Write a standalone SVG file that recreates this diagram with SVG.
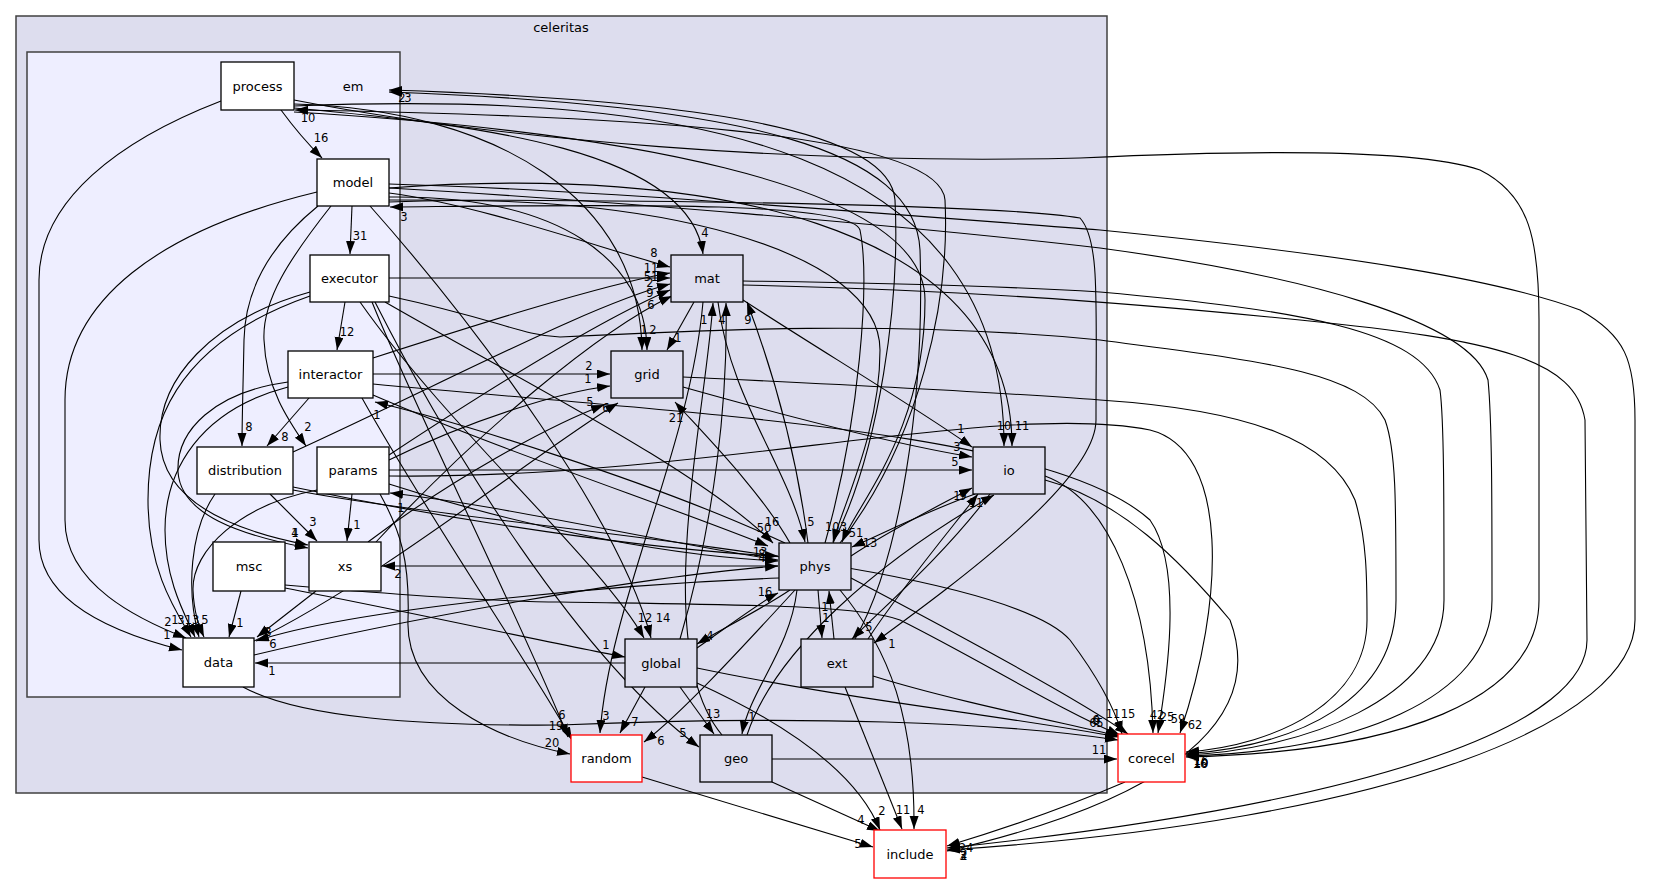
<svg xmlns="http://www.w3.org/2000/svg" width="1676" height="884" viewBox="0 0 1676 884">
<defs>
<marker id="ah" markerWidth="14" markerHeight="10" refX="13" refY="4.5" orient="auto" markerUnits="userSpaceOnUse"><path d="M0,0 L13,4.5 L0,9 z" fill="#000"/></marker>
<style>
.e path{fill:none;stroke:#000;stroke-width:1.1;marker-end:url(#ah)}
.e text{font-family:"DejaVu Sans",sans-serif;font-size:11.5px;text-anchor:middle;fill:#000}
.n rect{stroke:#000;stroke-width:1.3}
.n text{font-family:"DejaVu Sans",sans-serif;font-size:13px;text-anchor:middle;fill:#000}
.in rect{fill:#fff}
.out rect{fill:#ddddee}
.xt rect{fill:#fff;stroke:#ff0000}
.cl{stroke:#404040;stroke-width:1.5}
.ct{font-family:"DejaVu Sans",sans-serif;font-size:13px;text-anchor:middle;fill:#000}
</style>
</defs>
<rect width="1676" height="884" fill="#fff"/>
<g id="cluster-celeritas"><rect class="cl" x="16" y="16" width="1091" height="777" fill="#ddddee"/><text class="ct" x="561" y="32">celeritas</text></g>
<g id="cluster-em"><rect class="cl" x="27" y="52" width="373" height="645" fill="#eeeeff"/><text class="ct" x="353" y="91">em</text></g>
<g id="connectors">
<g class="e"><path d="M281,110 C292,125 305,141 322,158"/><text x="321" y="142">16</text></g>
<g class="e"><path d="M352,206 L350,254"/><text x="360" y="240">31</text></g>
<g class="e"><path d="M345,302 L337,350"/><text x="347" y="336">12</text></g>
<g class="e"><path d="M309,398 L267,446"/><text x="285" y="441">8</text></g>
<g class="e"><path d="M318,206 C270,245 245,290 244,340 C243,390 242,420 242,446"/><text x="249" y="431">8</text></g>
<g class="e"><path d="M331,206 C290,258 262,300 264,340 C266,388 288,420 306,446"/><text x="308" y="431">2</text></g>
<g class="e"><path d="M270,494 L317,541"/><text x="313" y="526">3</text></g>
<g class="e"><path d="M352,494 L347,541"/><text x="357" y="529">1</text></g>
<g class="e"><path d="M310,292 C210,320 158,380 160,440 C162,500 230,530 308,545"/><text x="295" y="537">4</text></g>
<g class="e"><path d="M288,382 C215,392 176,430 178,472 C181,515 240,535 308,548"/><text x="295" y="537">1</text></g>
<g class="e"><path d="M241,591 L229,637"/><text x="240" y="627">1</text></g>
<g class="e"><path d="M316,591 L257,637"/><text x="268" y="636">8</text></g>
<g class="e"><path d="M779,578 C600,585 350,610 256,641"/><text x="273" y="648">6</text></g>
<g class="e"><path d="M221,101 C120,140 39,200 39,280 L39,540 C39,600 110,632 182,650"/><text x="167" y="639">1</text></g>
<g class="e"><path d="M317,192 C160,230 65,300 65,400 L65,520 C65,585 140,620 186,638"/><text x="168" y="626">2</text></g>
<g class="e"><path d="M310,296 C170,345 148,430 148,500 C148,570 175,610 191,637"/><text x="175" y="624">1</text></g>
<g class="e"><path d="M288,387 C200,410 165,470 165,530 C165,580 185,615 195,637"/><text x="181" y="624">3</text></g>
<g class="e"><path d="M215,494 C190,530 186,590 199,637"/><text x="192" y="624">13</text></g>
<g class="e"><path d="M317,490 C240,505 192,550 193,590 C194,615 200,628 204,637"/><text x="205" y="624">5</text></g>
<g class="e"><path d="M625,663 L255,663"/><text x="272" y="675">1</text></g>
<g class="e"><path d="M254,641 C380,580 540,450 618,403"/><text x="606" y="412">6</text></g>
<g class="e"><path d="M368,542 C450,480 550,425 604,405"/><text x="590" y="406">5</text></g>
<g class="e"><path d="M376,542 C480,430 600,330 672,296"/><text x="651" y="309">6</text></g>
<g class="e"><path d="M293,452 C450,380 590,305 670,284"/><text x="650" y="287">2</text></g>
<g class="e"><path d="M389,455 C480,395 600,320 670,290"/><text x="650" y="297">9</text></g>
<g class="e"><path d="M373,358 C460,330 600,285 670,273"/><text x="651" y="272">11</text></g>
<g class="e"><path d="M389,278 L670,278"/><text x="651" y="281">51</text></g>
<g class="e"><path d="M389,193 C480,205 600,248 670,267"/><text x="654" y="257">8</text></g>
<g class="e"><path d="M294,108 C480,125 690,150 703,254"/><text x="705" y="237">4</text></g>
<g class="e"><path d="M294,104 C500,110 640,200 642,350"/><text x="644" y="334">1</text></g>
<g class="e"><path d="M389,197 C560,195 646,260 647,350"/><text x="653" y="334">2</text></g>
<g class="e"><path d="M694,302 L667,350"/><text x="678" y="342">1</text></g>
<g class="e"><path d="M373,374 L610,374"/><text x="589" y="370">2</text></g>
<g class="e"><path d="M389,460 C470,420 560,392 610,386"/><text x="588" y="383">1</text></g>
<g class="e"><path d="M790,543 C760,490 700,430 675,402"/><text x="676" y="422">21</text></g>
<g class="e"><path d="M683,387 C800,420 900,445 972,457"/><text x="957" y="451">3</text></g>
<g class="e"><path d="M389,470 L972,470"/><text x="955" y="466">5</text></g>
<g class="e"><path d="M743,300 C820,350 920,410 972,447"/><text x="961" y="433">1</text></g>
<g class="e"><path d="M294,106 C700,90 1004,150 1004,446"/><text x="1004" y="430">10</text></g>
<g class="e"><path d="M389,188 C700,165 1012,220 1012,446"/><text x="1022" y="430">11</text></g>
<g class="e"><path d="M851,556 C890,530 940,505 972,488"/><text x="963" y="500">9</text></g>
<g class="e"><path d="M975,494 C930,510 890,530 852,547"/><text x="870" y="547">13</text></g>
<g class="e"><path d="M868,639 C900,590 950,530 978,494"/><text x="957" y="500">1</text></g>
<g class="e"><path d="M747,735 C775,650 880,560 994,495"/><text x="976" y="507">11</text></g>
<g class="e"><path d="M990,494 C940,560 880,610 852,639"/><text x="869" y="631">5</text></g>
<g class="e"><path d="M389,200 C700,200 1000,205 1080,218 C1100,240 1096,300 1096,420 C1096,480 960,580 874,643"/><text x="892" y="648">1</text></g>
<g class="e"><path d="M833,543 C880,450 900,300 895,200 C890,130 700,100 389,90"/><text x="408" y="102">3</text></g>
<g class="e"><path d="M855,639 C900,560 925,400 920,250 C915,150 750,105 389,92"/><text x="402" y="102">2</text></g>
<g class="e"><path d="M840,543 C920,440 950,300 945,200 C940,130 600,115 295,110"/><text x="308" y="122">10</text></g>
<g class="e"><path d="M825,543 C860,420 870,280 860,230 C850,200 600,205 390,207"/><text x="404" y="221">3</text></g>
<g class="e"><path d="M385,302 C520,380 700,470 773,543"/><text x="772" y="526">16</text></g>
<g class="e"><path d="M373,395 C500,450 680,510 768,546"/><text x="764" y="532">50</text></g>
<g class="e"><path d="M718,302 C730,400 790,470 805,542"/><text x="811" y="526">5</text></g>
<g class="e"><path d="M389,202 C650,190 880,250 880,350 C880,430 845,500 833,542"/><text x="836" y="531">103</text></g>
<g class="e"><path d="M294,112 C600,130 925,180 925,300 C925,430 860,500 842,542"/><text x="856" y="537">51</text></g>
<g class="e"><path d="M293,487 C450,520 650,550 778,556"/><text x="760" y="556">13</text></g>
<g class="e"><path d="M389,484 C500,520 650,555 778,561"/><text x="762" y="558">8</text></g>
<g class="e"><path d="M254,655 C400,620 650,575 778,566"/><text x="762" y="562">4</text></g>
<g class="e"><path d="M778,566 L382,566"/><text x="398" y="578">2</text></g>
<g class="e"><path d="M778,560 C650,540 500,505 390,493"/><text x="401" y="512">1</text></g>
<g class="e"><path d="M785,543 C650,480 450,420 375,402"/><text x="377" y="419">1</text></g>
<g class="e"><path d="M808,543 C795,440 765,350 747,302"/><text x="748" y="324">9</text></g>
<g class="e"><path d="M680,639 C715,520 728,400 726,303"/><text x="722" y="324">4</text></g>
<g class="e"><path d="M722,735 C650,650 705,420 713,303"/><text x="704" y="324">1</text></g>
<g class="e"><path d="M703,302 C690,450 610,600 600,733"/><text x="606" y="720">3</text></g>
<g class="e"><path d="M795,590 C740,650 680,715 644,742"/><text x="661" y="745">6</text></g>
<g class="e"><path d="M645,687 L620,733"/><text x="635" y="726">7</text></g>
<g class="e"><path d="M372,302 C420,420 530,640 568,737"/><text x="556" y="730">19</text></g>
<g class="e"><path d="M362,398 C430,520 540,680 572,740"/><text x="562" y="719">6</text></g>
<g class="e"><path d="M380,494 C400,530 410,560 408,620 C405,700 500,740 570,754"/><text x="552" y="747">20</text></g>
<g class="e"><path d="M375,302 C450,450 580,660 699,747"/><text x="683" y="737">5</text></g>
<g class="e"><path d="M680,687 L714,734"/><text x="713" y="718">13</text></g>
<g class="e"><path d="M797,590 C790,650 750,690 742,734"/><text x="752" y="721">1</text></g>
<g class="e"><path d="M790,590 C760,610 720,630 697,644"/><text x="710" y="640">4</text></g>
<g class="e"><path d="M697,648 C730,625 760,602 778,593"/><text x="765" y="596">16</text></g>
<g class="e"><path d="M360,302 C450,430 600,560 644,638"/><text x="645" y="622">12</text></g>
<g class="e"><path d="M370,206 C480,330 620,520 651,638"/><text x="663" y="622">14</text></g>
<g class="e"><path d="M285,588 C400,610 560,645 625,657"/><text x="606" y="649">1</text></g>
<g class="e"><path d="M818,590 L822,638"/><text x="826" y="622">1</text></g>
<g class="e"><path d="M834,639 L829,591"/><text x="825" y="611">1</text></g>
<g class="e"><path d="M697,683 C800,730 860,780 880,830"/><text x="882" y="815">2</text></g>
<g class="e"><path d="M845,687 L902,829"/><text x="903" y="814">11</text></g>
<g class="e"><path d="M840,590 C890,650 915,720 914,829"/><text x="921" y="814">4</text></g>
<g class="e"><path d="M642,777 L873,847"/><text x="858" y="848">5</text></g>
<g class="e"><path d="M772,782 L880,831"/><text x="861" y="824">4</text></g>
<g class="e"><path d="M772,759 L1117,759"/><text x="1099" y="754">11</text></g>
<g class="e"><path d="M1125,782 C1060,810 1000,830 947,846"/><text x="964" y="860">2</text></g>
<g class="e"><path d="M1045,476 C1110,500 1150,600 1153,733"/><text x="1157" y="719">42</text></g>
<g class="e"><path d="M373,384 C700,415 1050,430 1150,520 C1185,570 1165,690 1158,733"/><text x="1167" y="721">25</text></g>
<g class="e"><path d="M389,476 C700,480 1000,400 1150,430 C1230,450 1225,600 1180,733"/><text x="1195" y="729">62</text></g>
<g class="e"><path d="M389,296 C500,320 520,335 560,337 C700,330 900,320 1100,340 C1250,360 1360,370 1385,420 C1396,450 1396,500 1396,600 C1396,700 1300,745 1186,754"/><text x="1178" y="723">59</text></g>
<g class="e"><path d="M683,377 C850,385 1000,392 1100,400 C1250,410 1330,440 1355,500 C1367,540 1367,580 1367,620 C1367,700 1280,745 1186,752"/><text x="1201" y="765">16</text></g>
<g class="e"><path d="M743,281 C900,283 1000,286 1100,292 C1300,310 1420,330 1440,390 C1444,420 1444,500 1444,600 C1444,700 1300,750 1186,755"/><text x="1201" y="767">10</text></g>
<g class="e"><path d="M389,188 C600,200 900,225 1100,248 C1300,275 1470,320 1488,380 C1492,420 1492,500 1492,600 C1492,700 1350,752 1186,756"/><text x="1200" y="768">16</text></g>
<g class="e"><path d="M294,100 C500,140 800,165 1080,158 C1250,150 1416,148 1480,170 C1530,195 1539,240 1539,320 L1539,600 C1539,700 1400,752 1186,757"/><text x="1201" y="768">10</text></g>
<g class="e"><path d="M389,184 C600,190 900,215 1100,230 C1350,255 1500,280 1580,310 C1625,335 1635,360 1635,420 L1635,620 C1635,720 1400,820 947,850"/><text x="966" y="852">24</text></g>
<g class="e"><path d="M743,285 C950,290 1100,300 1300,320 C1500,340 1575,360 1585,420 L1587,640 C1587,720 1400,800 947,848"/><text x="963" y="860">3</text></g>
<g class="e"><path d="M1045,480 C1120,500 1180,560 1230,620 C1260,700 1210,790 947,851"/><text x="964" y="858">2</text></g>
<g class="e"><path d="M243,687 C300,718 420,726 560,725 C800,715 1000,722 1118,740"/><text x="1093" y="727">6</text></g>
<g class="e"><path d="M697,668 C850,700 1000,715 1118,737"/><text x="1097" y="725">9</text></g>
<g class="e"><path d="M873,676 C950,700 1050,720 1119,736"/><text x="1100" y="727">5</text></g>
<g class="e"><path d="M285,585 C400,595 500,602 560,602 C750,605 860,605 900,620 C980,660 1060,710 1120,735"/><text x="1096" y="724">6</text></g>
<g class="e"><path d="M293,490 C500,530 1000,560 1070,640 C1100,680 1115,710 1122,734"/><text x="1113" y="718">11</text></g>
<g class="e"><path d="M851,578 C950,630 1080,700 1128,734"/><text x="1128" y="718">15</text></g>
</g>
<g id="n-process" class="n in"><rect x="221" y="62" width="73" height="48"/><text x="257.5" y="90.5">process</text></g>
<g id="n-model" class="n in"><rect x="317" y="159" width="72" height="47"/><text x="353" y="187">model</text></g>
<g id="n-executor" class="n in"><rect x="310" y="255" width="79" height="47"/><text x="349.5" y="283">executor</text></g>
<g id="n-interactor" class="n in"><rect x="288" y="351" width="85" height="47"/><text x="330.5" y="379">interactor</text></g>
<g id="n-distribution" class="n in"><rect x="197" y="447" width="96" height="47"/><text x="245" y="475">distribution</text></g>
<g id="n-params" class="n in"><rect x="317" y="447" width="72" height="47"/><text x="353" y="475">params</text></g>
<g id="n-msc" class="n in"><rect x="213" y="542" width="72" height="49"/><text x="249" y="571">msc</text></g>
<g id="n-xs" class="n in"><rect x="309" y="542" width="72" height="49"/><text x="345" y="571">xs</text></g>
<g id="n-data" class="n in"><rect x="183" y="638" width="71" height="49"/><text x="218.5" y="667">data</text></g>
<g id="n-mat" class="n out"><rect x="671" y="255" width="72" height="47"/><text x="707" y="283">mat</text></g>
<g id="n-grid" class="n out"><rect x="611" y="351" width="72" height="47"/><text x="647" y="379">grid</text></g>
<g id="n-io" class="n out"><rect x="973" y="447" width="72" height="47"/><text x="1009" y="475">io</text></g>
<g id="n-phys" class="n out"><rect x="779" y="543" width="72" height="47"/><text x="815" y="571">phys</text></g>
<g id="n-global" class="n out"><rect x="625" y="639" width="72" height="48"/><text x="661" y="667.5">global</text></g>
<g id="n-ext" class="n out"><rect x="801" y="639" width="72" height="48"/><text x="837" y="667.5">ext</text></g>
<g id="n-geo" class="n out"><rect x="700" y="735" width="72" height="47"/><text x="736" y="763">geo</text></g>
<g id="n-random" class="n xt"><rect x="571" y="735" width="71" height="47"/><text x="606.5" y="763">random</text></g>
<g id="n-corecel" class="n xt"><rect x="1118" y="734" width="67" height="48"/><text x="1151.5" y="762.5">corecel</text></g>
<g id="n-include" class="n xt"><rect x="874" y="830" width="72" height="48"/><text x="910" y="858.5">include</text></g>
</svg>
